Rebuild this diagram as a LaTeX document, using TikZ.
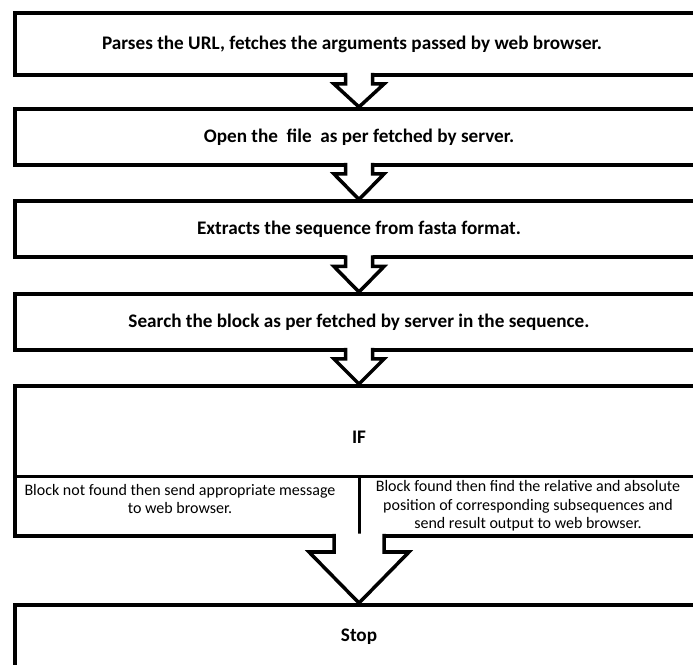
\documentclass[tikz,border=0pt]{standalone}
\usepackage{fontspec}
\setmainfont{Carlito}
\usetikzlibrary{calc,shadows}

% Hollow block arrow from the bottom of one box to the top of the next.
% #1 = upper box, #2 = lower box, #3 = shaft half width,
% #4 = head half width, #5 = shaft length
\newcommand\flowarrow[5]{%
  \path let \p1=(#1.south), \p2=(#2.north) in
    [fill=white] (\x1-#3,\y1+2.3) -- (\x1-#3,\y1-#5) -- (\x1-#4,\y1-#5)
      -- (\x1,\y2+2) -- (\x1+#4,\y1-#5) -- (\x1+#3,\y1-#5) -- (\x1+#3,\y1+2.3) -- cycle;
  \draw[arrowline] let \p1=(#1.south), \p2=(#2.north) in
    (\x1-#3,\y1+2) -- (\x1-#3,\y1-#5) -- (\x1-#4,\y1-#5)
      -- (\x1,\y2+2) -- (\x1+#4,\y1-#5) -- (\x1+#3,\y1-#5) -- (\x1+#3,\y1+2);
}

\begin{document}
\begin{tikzpicture}[x=1pt,y=1pt,
  stepbox/.style={draw=black, line width=4pt, fill=white, minimum width=688pt,
    inner sep=0pt, outer sep=0pt, font=\bfseries\fontsize{19.2}{22}\selectfont,
    drop shadow={opacity=0.25, shadow xshift=0pt, shadow yshift=-1.5pt}},
  celltext/.style={align=center, inner sep=0pt, font=\fontsize{16}{18.5}\selectfont},
  headtext/.style={inner sep=0pt, font=\bfseries\fontsize{19.2}{22}\selectfont},
  divider/.style={draw=black, line width=3pt},
  arrowline/.style={draw=black, line width=3.5pt, line join=miter}
]
\useasboundingbox (0,0) rectangle (693,664);
\clip (0,0) rectangle (693,664);

% process steps
\node[stepbox, minimum height=62pt] (s1) at (359,620) {Parses the URL, fetches the arguments passed by web browser.\hspace*{14pt}};
\node[stepbox, minimum height=56pt] (s2) at (359,527) {Open the\ \ file\ \ as per fetched by server.};
\node[stepbox, minimum height=56pt] (s3) at (359,434.5) {Extracts the sequence from fasta format.};
\node[stepbox, minimum height=56pt] (s4) at (359,342) {Search the block as per fetched by server in the sequence.};

% decision box
\node[stepbox, minimum height=150pt] (ifbox) at (359,203) {};
\node[headtext] (iftext) at (359,227) {IF};
\coordinate (split) at (359,187);
\draw[divider] (ifbox.west |- split) -- (ifbox.east |- split);
\draw[divider] (split) -- (split |- ifbox.south);
\node[celltext] (notfound) at (180,165) {Block not found then send appropriate message\\to web browser.};
\node[celltext] (found) at (528,158) {Block found then find the relative and absolute\\position of corresponding subsequences and\\send result output to web browser.};

% end
\node[stepbox, minimum height=64pt] (stop) at (359,27) {Stop};

% connecting arrows
\flowarrow{s1}{s2}{13.5}{25}{9}
\flowarrow{s2}{s3}{13.5}{25}{9}
\flowarrow{s3}{s4}{13.5}{25}{9}
\flowarrow{s4}{ifbox}{13.5}{25}{9}
\flowarrow{ifbox}{stop}{25}{50}{16}
\end{tikzpicture}
\end{document}
